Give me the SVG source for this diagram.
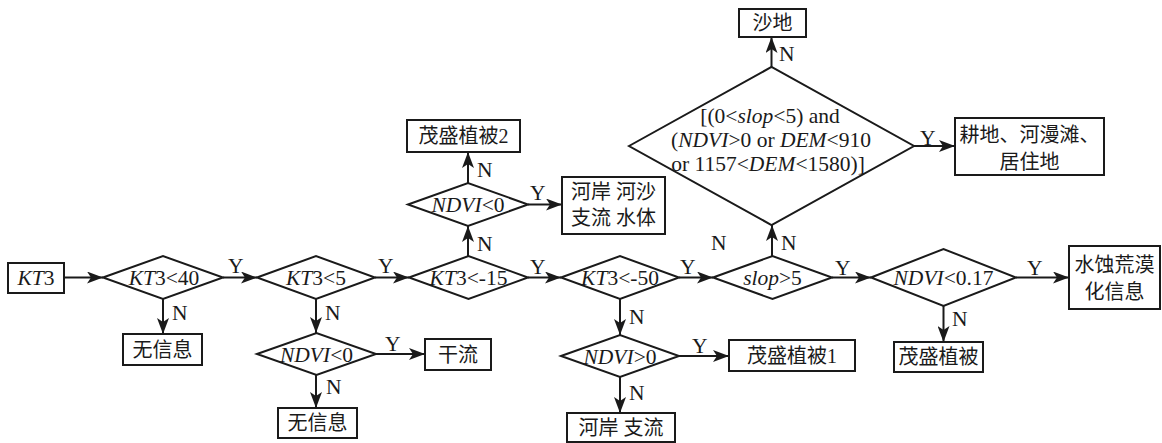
<svg xmlns="http://www.w3.org/2000/svg" width="1162" height="443" viewBox="0 0 1162 443">
<defs>
<marker id="arr" markerUnits="userSpaceOnUse" markerWidth="16" markerHeight="12" refX="16" refY="6" orient="auto">
<path d="M0,0 L16,6 L0,12 L4,6 Z" fill="#1a1a1a"/>
</marker>
<style>
.bx{fill:#fff;stroke:#1a1a1a;stroke-width:2}
.dm{fill:#fff;stroke:#1a1a1a;stroke-width:2}
.ln{stroke:#1a1a1a;stroke-width:2;fill:none;marker-end:url(#arr)}
.lt{font-family:"Liberation Serif",serif;font-size:21.5px;fill:#1a1a1a}
.ct{font-family:"Liberation Serif","Noto Sans CJK SC",serif;font-size:20px;fill:#1a1a1a}
.m{text-anchor:middle}
.i{font-style:italic}
</style>
</defs>
<rect width="1162" height="443" fill="#fff"/>

<g id="connectors">
<line class="ln" x1="64" y1="277.5" x2="103" y2="277.5"/>
<line class="ln" x1="223" y1="277.5" x2="257" y2="277.5"/>
<line class="ln" x1="163" y1="299" x2="163" y2="334"/>
<line class="ln" x1="375" y1="277.5" x2="409" y2="277.5"/>
<line class="ln" x1="316" y1="299" x2="316" y2="333"/>
<line class="ln" x1="376" y1="354" x2="425" y2="354"/>
<line class="ln" x1="316" y1="375" x2="316" y2="408"/>
<line class="ln" x1="528" y1="277.5" x2="561" y2="277.5"/>
<line class="ln" x1="468" y1="256" x2="468" y2="226"/>
<line class="ln" x1="468" y1="183" x2="468" y2="152"/>
<line class="ln" x1="528" y1="204.5" x2="562" y2="204.5"/>
<line class="ln" x1="679" y1="277.5" x2="713" y2="277.5"/>
<line class="ln" x1="620" y1="299" x2="620" y2="335"/>
<line class="ln" x1="679" y1="356" x2="729" y2="356"/>
<line class="ln" x1="620" y1="377" x2="620" y2="413"/>
<line class="ln" x1="772" y1="256" x2="772" y2="225"/>
<line class="ln" x1="771.5" y1="67" x2="771.5" y2="37"/>
<line class="ln" x1="914" y1="146" x2="955" y2="146"/>
<line class="ln" x1="832" y1="277.5" x2="871" y2="277.5"/>
<line class="ln" x1="943.5" y1="306" x2="943.5" y2="342"/>
<line class="ln" x1="1016" y1="277.5" x2="1069" y2="277.5"/>
<g class="lt">
<text x="228" y="273">Y</text>
<text x="172" y="320">N</text>
<text x="378" y="273">Y</text>
<text x="325" y="320">N</text>
<text x="385" y="351">Y</text>
<text x="326" y="394">N</text>
<text x="530" y="274">Y</text>
<text x="477" y="251">N</text>
<text x="530" y="200">Y</text>
<text x="477" y="177">N</text>
<text x="680" y="274">Y</text>
<text x="629" y="324">N</text>
<text x="692" y="353">Y</text>
<text x="629" y="400">N</text>
<text x="835" y="275">Y</text>
<text x="781" y="250">N</text>
<text x="711" y="250">N</text>
<text x="779" y="61">N</text>
<text x="920" y="145">Y</text>
<text x="1027" y="275">Y</text>
<text x="952" y="326">N</text>
</g>
</g>

<g id="n-kt3"><rect class="bx" x="8" y="263" width="56" height="30"/><text class="lt m" x="36" y="285"><tspan class="i">KT</tspan>3</text></g>
<g id="d-kt3-40"><polygon class="dm" points="103,277.5 163,256 223,277.5 163,299"/><text class="lt m" x="164" y="285"><tspan class="i">KT</tspan>3&lt;40</text></g>
<g id="n-wxx1"><rect class="bx" x="123" y="334" width="79" height="31"/><text class="ct m" x="162.5" y="357">无信息</text></g>
<g id="d-kt3-5"><polygon class="dm" points="257,277.5 316,256 375,277.5 316,299"/><text class="lt m" x="316" y="285"><tspan class="i">KT</tspan>3&lt;5</text></g>
<g id="d-ndvi-lt0-a"><polygon class="dm" points="257,354 316.5,333 376,354 316.5,375"/><text class="lt m" x="316.5" y="361.5"><tspan class="i">NDVI</tspan>&lt;0</text></g>
<g id="n-ganliu"><rect class="bx" x="425" y="339" width="66" height="31"/><text class="ct m" x="458" y="362">干流</text></g>
<g id="n-wxx2"><rect class="bx" x="278" y="408" width="79" height="30"/><text class="ct m" x="317.5" y="430">无信息</text></g>
<g id="d-kt3-15"><polygon class="dm" points="409,277.5 468.5,256 528,277.5 468.5,299"/><text class="lt m" x="468.5" y="285"><tspan class="i">KT</tspan>3&lt;-15</text></g>
<g id="d-ndvi-lt0-b"><polygon class="dm" points="408,204.5 468,183 528,204.5 468,226"/><text class="lt m" x="468" y="212"><tspan class="i">NDVI</tspan>&lt;0</text></g>
<g id="n-msbz2"><rect class="bx" x="407" y="120" width="113" height="32"/><text class="ct m" x="463.5" y="143">茂盛植被2</text></g>
<g id="n-hean"><rect class="bx" x="562" y="177" width="103" height="57"/><text class="ct m" x="613.5" y="199">河岸 河沙</text><text class="ct m" x="613.5" y="225">支流 水体</text></g>
<g id="d-kt3-50"><polygon class="dm" points="561,277.5 620,256 679,277.5 620,299"/><text class="lt m" x="620" y="285"><tspan class="i">KT</tspan>3&lt;-50</text></g>
<g id="d-ndvi-gt0"><polygon class="dm" points="561,356 620,335 679,356 620,377"/><text class="lt m" x="620" y="363.5"><tspan class="i">NDVI</tspan>&gt;0</text></g>
<g id="n-msbz1"><rect class="bx" x="729" y="340" width="126" height="31"/><text class="ct m" x="792" y="363">茂盛植被1</text></g>
<g id="n-hean-zl"><rect class="bx" x="567" y="413" width="108" height="29"/><text class="ct m" x="621" y="435">河岸 支流</text></g>
<g id="d-slop"><polygon class="dm" points="713,277.5 772.5,256 832,277.5 772.5,299"/><text class="lt m" x="772.5" y="285"><tspan class="i">slop</tspan>&gt;5</text></g>
<g id="d-big"><polygon class="dm" points="629,146 771.5,67 914,146 771.5,225"/>
<text class="lt m" x="770" y="123">[(0&lt;<tspan class="i">slop</tspan>&lt;5) and</text>
<text class="lt m" x="771" y="147">(<tspan class="i">NDVI</tspan>&gt;0 or <tspan class="i">DEM</tspan>&lt;910</text>
<text class="lt m" x="768" y="171">or 1157&lt;<tspan class="i">DEM</tspan>&lt;1580)]</text></g>
<g id="n-shadi"><rect class="bx" x="739" y="9" width="67" height="28"/><text class="ct m" x="772.5" y="30">沙地</text></g>
<g id="n-gengdi"><rect class="bx" x="955" y="118" width="149" height="57"/><text class="ct m" x="1029.5" y="142">耕地、河漫滩、</text><text class="ct m" x="1029.5" y="169">居住地</text></g>
<g id="d-ndvi-017"><polygon class="dm" points="871,277.5 943.5,249 1016,277.5 943.5,306"/><text class="lt m" x="943.5" y="285"><tspan class="i">NDVI</tspan>&lt;0.17</text></g>
<g id="n-msbz"><rect class="bx" x="894" y="342" width="89" height="30"/><text class="ct m" x="938.5" y="364">茂盛植被</text></g>
<g id="n-shuishi"><rect class="bx" x="1069" y="246" width="91" height="63"/><text class="ct m" x="1114.5" y="272">水蚀荒漠</text><text class="ct m" x="1114.5" y="299">化信息</text></g>
</svg>
